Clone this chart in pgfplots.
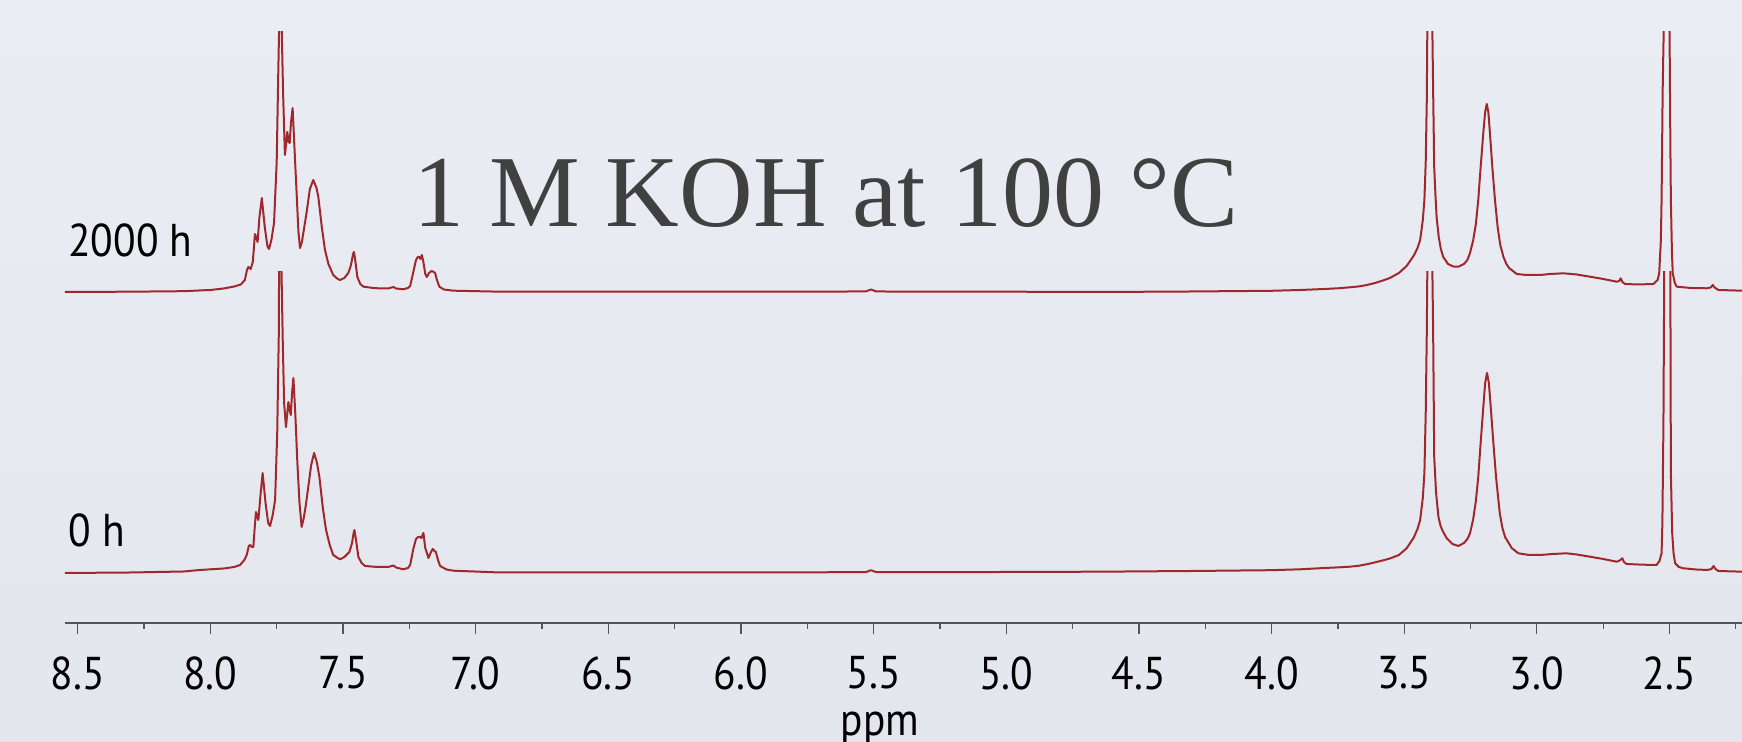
\documentclass[border=0pt]{standalone}
\usepackage{pgfplots}
\pgfplotsset{compat=1.18}
\usepackage{pgfplotstable}
\usepackage{fontspec}
\newfontfamily\labelfont[FakeStretch=0.9]{PT Sans}
\newfontfamily\titlefont{Liberation Serif}
\definecolor{spec}{RGB}{160,40,44}
\definecolor{bgtop}{RGB}{234,237,244}
\definecolor{bgbot}{RGB}{227,230,237}
\definecolor{axisgray}{RGB}{85,85,85}
\definecolor{titlegray}{RGB}{64,64,64}

% 2000 h spectrum: ppm, intensity (relative units)
\pgfplotstableread{
ppm I
8.55 0
8.30 0.3
8.10 0.8
8.00 2
7.95 3.5
7.91 5.5
7.885 7.5
7.870 12
7.862 22
7.857 25
7.848 23
7.840 30
7.832 58
7.826 54
7.822 50
7.815 75
7.806 94
7.795 65
7.785 46
7.779 43
7.770 52
7.760 69
7.750 130
7.744 220
7.741 262
7.736 800
7.731 262
7.726 200
7.719 137
7.713 152
7.710 160
7.705 150
7.701 149
7.696 170
7.690 184
7.684 150
7.676 105
7.668 60
7.662 44
7.655 50
7.646 65
7.637 80
7.625 103
7.612 112
7.600 104
7.593 95
7.580 65
7.568 42
7.555 28
7.537 17
7.520 13
7.511 12
7.495 14
7.480 19
7.470 27
7.462 38
7.459 40
7.455 34
7.446 15
7.435 8
7.423 5.3
7.38 3.8
7.33 3.5
7.31 5
7.30 3.5
7.273 2.7
7.255 4
7.247 6
7.235 20
7.225 32
7.218 35
7.212 35
7.208 33
7.203 37
7.197 30
7.190 18
7.184 15
7.176 19
7.166 21
7.158 20
7.153 19
7.146 12
7.137 5.3
7.12 2.5
7.084 1.3
6.908 0.3
6.5 0.3
6.0 0.4
5.53 0.5
5.51 2.5
5.49 0.5
5.0 0.3
4.646 0
4.3 0.5
4.0 1.2
3.892 2
3.80 3
3.75 3.7
3.704 4.7
3.67 5.6
3.64 7
3.61 9
3.58 11.5
3.554 14
3.52 19
3.491 26
3.465 36
3.450 44
3.440 52
3.430 72
3.424 92
3.419 130
3.415 192
3.413 262
3.403 1000
3.394 262
3.391 200
3.387 125
3.382 95
3.378 75
3.370 55
3.362 43
3.353 35
3.335 28
3.315 25.5
3.296 25.3
3.275 28
3.262 32
3.252 39
3.240 52
3.230 68
3.221 92
3.212 125
3.202 159
3.195 180
3.189 188
3.183 180
3.177 159
3.168 125
3.158 92
3.148 65
3.138 47
3.126 35
3.115 28
3.105 24
3.076 18
3.04 17
2.988 17
2.95 18
2.90 18.7
2.85 17.5
2.800 15.3
2.75 13
2.699 10.3
2.690 11
2.684 13.7
2.678 10
2.668 8
2.62 7.5
2.561 8
2.545 12
2.539 18.7
2.533 50
2.530 92
2.526 200
2.522 262
2.511 1000
2.500 262
2.497 150
2.495 92
2.491 40
2.488 18.7
2.480 9
2.473 5.3
2.42 4
2.360 3.7
2.345 4.5
2.337 7
2.330 4.5
2.316 2
2.227 1.3
}\specTop

% 0 h spectrum: ppm, intensity (relative units)
\pgfplotstableread{
ppm I
8.55 0
8.30 0.5
8.10 1.5
8.04 3
7.95 4.5
7.91 6
7.888 8
7.872 13
7.863 18
7.855 27
7.850 28
7.843 26
7.838 26
7.833 45
7.828 61
7.823 56
7.819 53
7.812 75
7.803 100
7.792 70
7.782 50
7.775 47
7.765 58
7.756 73
7.748 140
7.742 240
7.741 303
7.737 900
7.732 303
7.727 230
7.722 170
7.715 146
7.710 160
7.706 171
7.701 163
7.697 158
7.692 180
7.687 195
7.680 160
7.672 110
7.664 70
7.656 46
7.648 55
7.640 68
7.631 86
7.620 108
7.609 120
7.598 110
7.589 96
7.576 65
7.564 43
7.550 28
7.537 18
7.520 15
7.511 13.7
7.495 16
7.476 21
7.466 30
7.460 40
7.457 43
7.452 35
7.442 16
7.430 10
7.417 7
7.37 6
7.33 6
7.31 7.5
7.30 5.5
7.273 3.7
7.255 5
7.247 8
7.235 24
7.225 34
7.217 36
7.210 36
7.205 35
7.197 40
7.190 25
7.178 15
7.170 20
7.162 24
7.155 22
7.150 21
7.142 13
7.134 7
7.11 3.5
7.084 2.3
6.908 0.5
6.5 0.5
6.0 0.6
5.53 0.8
5.51 2.8
5.49 0.8
5.0 1
4.646 1.3
4.3 2
4.0 2.8
3.892 3.7
3.80 5
3.75 5.6
3.704 6.3
3.67 7.3
3.64 8.8
3.61 10.6
3.58 12.6
3.554 14.5
3.52 18
3.491 24.7
3.465 35
3.450 44
3.440 53
3.430 75
3.424 100
3.419 160
3.415 240
3.413 303
3.403 1200
3.394 303
3.391 240
3.387 116
3.380 80
3.371 56
3.363 47
3.355 42
3.340 34.7
3.318 29
3.296 27
3.275 30
3.262 34
3.252 39.7
3.240 54
3.230 72
3.221 96
3.212 130
3.202 166
3.195 190
3.188 200
3.181 190
3.174 166
3.164 130
3.154 96
3.140 60
3.130 45
3.120 36
3.095 25
3.070 19.7
3.03 18
2.988 18
2.94 19
2.888 19.7
2.85 18.5
2.800 16.3
2.75 14
2.699 11.3
2.688 12.5
2.678 14.7
2.672 11
2.662 9
2.60 8.3
2.549 8
2.538 12
2.530 19.7
2.527 50
2.523 150
2.520 303
2.508 1200
2.497 303
2.495 100
2.490 40
2.485 20
2.479 9.7
2.465 6
2.448 4.7
2.40 3.5
2.357 3
2.342 4
2.334 7
2.327 4
2.316 2
2.227 1.3
}\specBottom

\begin{document}
\begin{tikzpicture}
\useasboundingbox (0,0) rectangle (871pt,371pt);
\shade[top color=bgtop, bottom color=bgbot] (0,0) rectangle (871pt,371pt);

% bottom spectrum (0 h) with the ppm axis
\begin{axis}[
  at={(32.5pt,59.65pt)}, anchor=south west,
  scale only axis, width=838.5pt, height=175.5pt,
  xmin=2.227, xmax=8.548, x dir=reverse,
  ymin=-49.7, ymax=301.3,
  axis x line*=bottom, axis y line=none,
  axis line style={draw=axisgray, line width=1pt},
  xtick={2.5,3.0,3.5,4.0,4.5,5.0,5.5,6.0,6.5,7.0,7.5,8.0,8.5},
  minor xtick={2.25,2.75,3.25,3.75,4.25,4.75,5.25,5.75,6.25,6.75,7.25,7.75,8.25},
  tick align=outside,
  major tick length=5.5pt, minor tick length=3pt,
  tick style={draw=axisgray, line width=0.6pt},
  ytick=\empty,
  xticklabel style={font=\labelfont\fontsize{23}{23}\selectfont, text=black, yshift=-8pt,
    /pgf/number format/fixed, /pgf/number format/fixed zerofill,
    /pgf/number format/precision=1, /pgf/number format/assume math mode=true},
  xlabel={ppm},
  xlabel style={at={(axis description cs:0.486,-0.32)}, anchor=base, inner sep=0pt,
    font=\labelfont\fontsize{23}{23}\selectfont, text=black},
]
\addplot[spec, line width=1pt, line join=round, no marks] table[x=ppm, y=I] {\specBottom};
\end{axis}

% top spectrum (2000 h)
\begin{axis}[
  at={(32.5pt,221pt)}, anchor=south west,
  scale only axis, width=838.5pt, height=134.15pt,
  xmin=2.227, xmax=8.548, x dir=reverse,
  ymin=-8, ymax=260.3,
  hide axis,
]
\addplot[spec, line width=1pt, line join=round, no marks] table[x=ppm, y=I] {\specTop};
\end{axis}

\node[anchor=base west, inner sep=0pt, font=\labelfont\fontsize{23}{23}\selectfont] at (34pt,242.5pt) {2000 h};
\node[anchor=base west, inner sep=0pt, font=\labelfont\fontsize{23}{23}\selectfont] at (34pt,97.5pt) {0 h};
\node[anchor=base west, inner sep=0pt, text=titlegray, font=\titlefont\fontsize{51}{51}\selectfont] at (206.35pt,257.5pt) {1 M KOH at 100 °C};
\end{tikzpicture}
\end{document}
